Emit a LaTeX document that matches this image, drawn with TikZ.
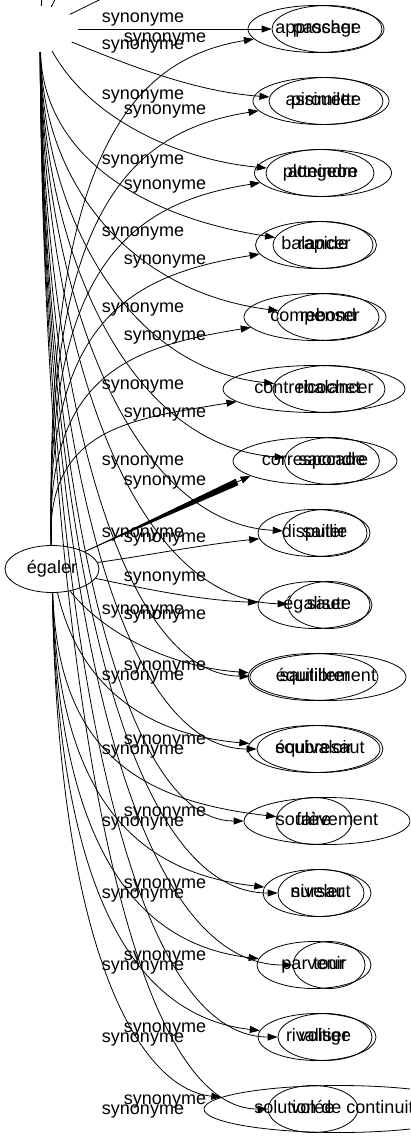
\documentclass[tikz,border=0pt]{standalone}
\usepackage{fontspec}
\setmainfont{Liberation Sans}
\usetikzlibrary{shapes.geometric,arrows.meta}
\begin{document}
\begin{tikzpicture}[x=1pt,y=-1pt,
  every node/.style={font=\fontsize{18}{21}\selectfont, text=black, text height=13pt, text depth=4pt},
  nd/.style={ellipse, draw, line width=0.8pt, inner sep=0pt, minimum height=47pt},
  lab/.style={inner sep=0pt},
  syn/.style={draw, line width=0.8pt, -{Triangle[length=10pt,width=7pt]}},
  plain/.style={draw, line width=0.8pt},
]
\useasboundingbox (0,0) rectangle (410,1139);
\clip (0,0) rectangle (410,1139);

% source nodes
\node[ellipse, draw=none, minimum width=76pt, minimum height=46pt, inner sep=0pt] (S) at (40,29) {};
\node[nd, minimum width=94pt] (eg) at (52,569) {égaler};

% targets
\node[nd, minimum width=136pt] (a1) at (316,29) {approcher};
\node[nd, minimum width=110pt] (b1) at (327,29) {passage};
\node[nd, minimum width=136pt] (a2) at (321,101) {assimiler};
\node[nd, minimum width=114pt] (b2) at (326,101) {pirouette};
\node[nd, minimum width=137pt] (a3) at (323,173) {atteindre};
\node[nd, minimum width=108pt] (b3) at (320,173) {plongeon};
\node[nd, minimum width=121pt] (a4) at (316,245) {balancer};
\node[nd, minimum width=100pt] (b4) at (323,245) {rapide};
\node[nd, minimum width=142pt] (a5) at (315,317) {compenser};
\node[nd, minimum width=102pt] (b5) at (328,317) {rebond};
\node[nd, minimum width=182pt] (a6) at (314,389) {contrebalancer};
\node[nd, minimum width=112pt] (b6) at (329,389) {ricochet};
\node[nd, minimum width=164pt] (a7) at (315,461) {correspondre};
\node[nd, minimum width=90pt] (b7) at (332,461) {saccade};
\node[nd, minimum width=112pt] (a8) at (314,533) {disputer};
\node[nd, minimum width=84pt] (b8) at (325,533) {saillie};
\node[nd, minimum width=114pt] (a9) at (315,605) {égaliser};
\node[nd, minimum width=82pt] (b9) at (329,605) {saute};
\node[nd, minimum width=130pt] (a10) at (313,677) {équilibrer};
\node[nd, minimum width=156pt] (b10) at (328,677) {sautillement};
\node[nd, minimum width=132pt] (a11) at (314,749) {équivaloir};
\node[nd, minimum width=122pt] (b11) at (320,749) {soubresaut};
\node[nd, minimum width=76pt] (a12) at (314,821) {faire};
\node[nd, minimum width=166pt] (b12) at (327,821) {soulèvement};
\node[nd, minimum width=108pt] (a13) at (317,893) {niveler};
\node[nd, minimum width=86pt] (b13) at (321,893) {sursaut};
\node[nd, minimum width=114pt] (a14) at (314,965) {parvenir};
\node[nd, minimum width=72pt] (b14) at (329,965) {tour};
\node[nd, minimum width=118pt] (a15) at (317,1037) {rivaliser};
\node[nd, minimum width=94pt] (b15) at (325,1037) {voltige};
\node[nd, minimum width=270pt] (a16) at (339,1109) {solution de continuité};
\node[nd, minimum width=90pt] (b16) at (313,1109) {volée};

% edges leaving the picture at the top
\coordinate (u1) at (44,-40);
\coordinate (u2) at (70,-30);
\coordinate (u3) at (140,-20);
\draw[plain] (S) -- (u1);
\draw[plain] (S) -- (u2);
\draw[plain] (S) -- (u3);

% edges from the upper source
\draw[syn] (S) -- (b1);
\draw[syn] (S) .. controls (140,70) and (200,92) .. (b2);
\draw[syn] (S) .. controls (90,120) and (180,160) .. (b3);
\draw[syn] (S) .. controls (43,148) and (130,215) .. (b4);
\draw[syn] (S) .. controls (43,184) and (130,292) .. (b5);
\draw[syn] (S) .. controls (43,220) and (130,369) .. (b6);
\draw[syn] (S) .. controls (43,256) and (130,446) .. (b7);
\draw[syn] (S) .. controls (43,292) and (130,523) .. (b8);
\draw[syn] (S) .. controls (43,328) and (125,600) .. (b9);
\draw[syn] (S) .. controls (43,364) and (115,675) .. (b10);
\draw[syn] (S) .. controls (43,400) and (110,749) .. (b11);
\draw[syn] (S) .. controls (43,436) and (110,821) .. (b12);
\draw[syn] (S) .. controls (43,472) and (110,893) .. (b13);
\draw[syn] (S) .. controls (43,508) and (110,965) .. (b14);
\draw[syn] (S) .. controls (43,544) and (110,1037) .. (b15);
\draw[syn] (S) .. controls (43,580) and (110,1109) .. (b16);

% edges from égaler
\draw[syn] (eg) .. controls (44,158) and (130,59) .. (a1);
\draw[syn] (eg) .. controls (44,212) and (130,131) .. (a2);
\draw[syn] (eg) .. controls (44,266) and (130,203) .. (a3);
\draw[syn] (eg) .. controls (44,320) and (130,275) .. (a4);
\draw[syn] (eg) .. controls (45,374) and (130,347) .. (a5);
\draw[syn] (eg) .. controls (46,428) and (130,419) .. (a6);
\coordinate (w1) at (235.6,478.8);
\coordinate (w2) at (238.4,485.2);
\fill (eg.28) -- (w1) -- (w2) -- cycle;
\draw[syn] (eg.28) -- (a7.193);
\draw[syn] (eg) .. controls (150,555) and (200,545) .. (a8);
\draw[syn] (eg) .. controls (150,590) and (200,600) .. (a9);
\draw[syn] (eg) .. controls (110,640) and (180,668) .. (a10);
\draw[syn] (eg) .. controls (80,690) and (150,735) .. (a11);
\draw[syn] (eg) .. controls (58,753) and (140,801) .. (a12);
\draw[syn] (eg) .. controls (58,803) and (140,873) .. (a13);
\draw[syn] (eg) .. controls (58,853) and (140,945) .. (a14);
\draw[syn] (eg) .. controls (58,904) and (140,1017) .. (a15);
\draw[syn] (eg) .. controls (58,954) and (140,1089) .. (a16);

% labels
\node[lab] (l1) at (143,18) {synonyme};
\node[lab] (l2) at (165,38) {synonyme};
\node[lab] (l3) at (143,45) {synonyme};
\node[lab] (l4) at (143,95) {synonyme};
\node[lab] (l5) at (165,110) {synonyme};
\node[lab] (l6) at (143,160) {synonyme};
\node[lab] (l7) at (165,185) {synonyme};
\node[lab] (l8) at (143,232) {synonyme};
\node[lab] (l9) at (165,260) {synonyme};
\node[lab] (l10) at (143,308) {synonyme};
\node[lab] (l11) at (165,336) {synonyme};
\node[lab] (l12) at (143,385) {synonyme};
\node[lab] (l13) at (165,413) {synonyme};
\node[lab] (l14) at (143,461) {synonyme};
\node[lab] (l15) at (165,481) {synonyme};
\node[lab] (l16) at (143,533) {synonyme};
\node[lab] (l17) at (165,538) {synonyme};
\node[lab] (l18) at (165,577) {synonyme};
\node[lab] (l19) at (143,610) {synonyme};
\node[lab] (l20) at (165,615) {synonyme};
\node[lab] (l21) at (165,666) {synonyme};
\node[lab] (l22) at (143,676) {synonyme};
\node[lab] (l23) at (165,740) {synonyme};
\node[lab] (l24) at (143,750) {synonyme};
\node[lab] (l25) at (165,812) {synonyme};
\node[lab] (l26) at (143,822) {synonyme};
\node[lab] (l27) at (165,884) {synonyme};
\node[lab] (l28) at (143,894) {synonyme};
\node[lab] (l29) at (165,956) {synonyme};
\node[lab] (l30) at (143,966) {synonyme};
\node[lab] (l31) at (165,1028) {synonyme};
\node[lab] (l32) at (143,1038) {synonyme};
\node[lab] (l33) at (165,1100) {synonyme};
\node[lab] (l34) at (143,1110) {synonyme};
\end{tikzpicture}
\end{document}
